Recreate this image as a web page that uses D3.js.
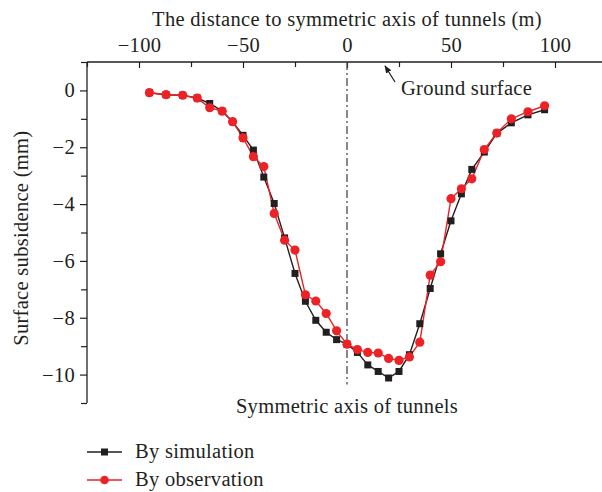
<!DOCTYPE html>
<html>
<head>
<meta charset="utf-8">
<script src="https://cdn.jsdelivr.net/npm/d3@7"></script>
<style>
  html, body { margin: 0; padding: 0; background: #fff; }
  svg { display: block; }
  text { font-family: "Liberation Serif", "DejaVu Serif", serif; fill: #231f20; letter-spacing: 0.3px; }
</style>
</head>
<body>
<svg id="chart" width="602" height="492"></svg>
<script>
// ---- data ----
const distance = [-95,-87,-79,-72,-66,-60,-55,-50,-45,-40,-35,-30,-25,-20,-15,-10,-5,0,5,10,15,20,25,30,35,40,45,50,55,60,66,72,79,87,95];
const simulation = [-0.08,-0.15,-0.17,-0.27,-0.46,-0.73,-1.10,-1.58,-2.10,-3.05,-3.98,-5.19,-6.44,-7.42,-8.09,-8.51,-8.77,-8.93,-9.22,-9.66,-9.89,-10.12,-9.89,-9.30,-8.21,-6.97,-5.75,-4.59,-3.64,-2.78,-2.17,-1.51,-1.14,-0.86,-0.68];
const observation = [-0.08,-0.15,-0.17,-0.27,-0.61,-0.73,-1.10,-1.67,-2.33,-2.68,-4.33,-5.27,-5.62,-7.19,-7.41,-7.85,-8.46,-8.93,-9.12,-9.22,-9.24,-9.43,-9.50,-9.38,-8.86,-6.50,-6.03,-3.81,-3.46,-3.11,-2.08,-1.50,-1.00,-0.75,-0.54];
const xTicks = [-100,-50,0,50,100];
const xMinorTicks = [-125,-75,-25,25,75,125];
const yTicks = [0,-2,-4,-6,-8,-10];
const yMinorTicks = [1,-1,-3,-5,-7,-9,-11];
const seriesNames = ["By simulation", "By observation"];
const xTitle = "The distance to symmetric axis of tunnels (m)";
const yTitle = "Surface subsidence (mm)";
const axisNote = "Symmetric axis of tunnels";
const groundNote = "Ground surface";

// ---- layout ----
const svg = d3.select("#chart");
const mLeft = 87, mTop = 62;
const x = d3.scaleLinear().domain([-125, 125]).range([mLeft, mLeft + 520]);
const y = d3.scaleLinear().domain([1, -11]).range([mTop, mTop + 341]);
const ink = "#231f20";
const red = "#ec2227";
const fs = 20.5;
const fmt = d => (d < 0 ? "\u2212" + Math.abs(d) : "" + d);

// top axis
const gx = svg.append("g").attr("transform", `translate(0,${mTop})`);
gx.call(d3.axisTop(x).tickValues(xTicks).tickSize(-6).tickPadding(10).tickFormat(fmt));
gx.select(".domain").attr("stroke", ink).attr("stroke-width", 1.3).attr("d", `M${mLeft},0H602`);
gx.selectAll(".tick line").attr("stroke", ink).attr("stroke-width", 1.2);
gx.selectAll(".tick text").attr("font-size", fs).attr("font-family", "Liberation Serif").attr("fill", ink);
const gxm = svg.append("g").attr("transform", `translate(0,${mTop})`);
gxm.call(d3.axisTop(x).tickValues(xMinorTicks).tickSize(-5).tickFormat(""));
gxm.select(".domain").remove();
gxm.selectAll(".tick line").attr("stroke", ink).attr("stroke-width", 1.2);

// left axis
const gy = svg.append("g").attr("transform", `translate(${mLeft},0)`);
gy.call(d3.axisLeft(y).tickValues(yTicks).tickSize(7).tickPadding(5).tickFormat(fmt));
gy.select(".domain").attr("stroke", ink).attr("stroke-width", 1.3).attr("d", `M0,${mTop}V${y(-11)}`);
gy.selectAll(".tick line").attr("stroke", ink).attr("stroke-width", 1.2);
gy.selectAll(".tick text").attr("font-size", fs).attr("font-family", "Liberation Serif").attr("fill", ink);
const gym = svg.append("g").attr("transform", `translate(${mLeft},0)`);
gym.call(d3.axisLeft(y).tickValues(yMinorTicks).tickSize(6).tickFormat(""));
gym.select(".domain").remove();
gym.selectAll(".tick line").attr("stroke", ink).attr("stroke-width", 1.2);

// titles
svg.append("text").attr("x", x(0)).attr("y", 26).attr("text-anchor", "middle")
  .attr("font-size", fs).text(xTitle);
svg.append("text").attr("transform", `translate(28,${y(-5.2)}) rotate(-90)`)
  .attr("text-anchor", "middle").attr("font-size", fs).text(yTitle);

// symmetric axis line
svg.append("line").attr("x1", x(0)).attr("x2", x(0)).attr("y1", mTop).attr("y2", y(-10.35))
  .attr("stroke", "#4a4a4a").attr("stroke-width", 1.3).attr("stroke-dasharray", "8,3,2,3");
svg.append("text").attr("x", x(0)).attr("y", 413).attr("text-anchor", "middle")
  .attr("font-size", fs).text(axisNote);

// ground surface note with arrow
svg.append("defs").append("marker").attr("id", "arr").attr("viewBox", "0 0 10 10")
  .attr("refX", 9).attr("refY", 5).attr("markerWidth", 6).attr("markerHeight", 6)
  .attr("orient", "auto").append("path").attr("d", "M0,1L10,5L0,9Z").attr("fill", ink);
svg.append("line").attr("x1", 395).attr("y1", 82).attr("x2", 385).attr("y2", 66)
  .attr("stroke", ink).attr("stroke-width", 1.3).attr("marker-end", "url(#arr)");
svg.append("text").attr("x", 401).attr("y", 95).attr("font-size", fs).text(groundNote);

// series
const simData = distance.map((d, i) => [d, simulation[i]]);
const obsData = distance.map((d, i) => [d, observation[i]]);
const line = d3.line().x(d => x(d[0])).y(d => y(d[1]));

svg.append("path").datum(simData).attr("fill", "none").attr("stroke", ink).attr("stroke-width", 1.4).attr("d", line);
svg.append("path").datum(obsData).attr("fill", "none").attr("stroke", red).attr("stroke-width", 1.4).attr("d", line);

const sq = 7;
svg.append("g").selectAll("rect").data(simData).join("rect")
  .attr("x", d => x(d[0]) - sq / 2).attr("y", d => y(d[1]) - sq / 2)
  .attr("width", sq).attr("height", sq).attr("fill", ink);
svg.append("g").selectAll("circle").data(obsData).join("circle")
  .attr("cx", d => x(d[0])).attr("cy", d => y(d[1])).attr("r", 4.6).attr("fill", red);

// legend
const legY = [452, 480];
const legColors = [ink, red];
seriesNames.forEach((name, i) => {
  const g = svg.append("g");
  g.append("line").attr("x1", 87).attr("x2", 122).attr("y1", legY[i]).attr("y2", legY[i])
    .attr("stroke", legColors[i]).attr("stroke-width", 1.4);
  if (i === 0) {
    g.append("rect").attr("x", 104.5 - 3.5).attr("y", legY[i] - 3.5).attr("width", 7).attr("height", 7).attr("fill", ink);
  } else {
    g.append("circle").attr("cx", 104.5).attr("cy", legY[i]).attr("r", 4.3).attr("fill", red);
  }
  g.append("text").attr("x", 135).attr("y", legY[i] + 6).attr("font-size", fs).text(name);
});
</script>
</body>
</html>
